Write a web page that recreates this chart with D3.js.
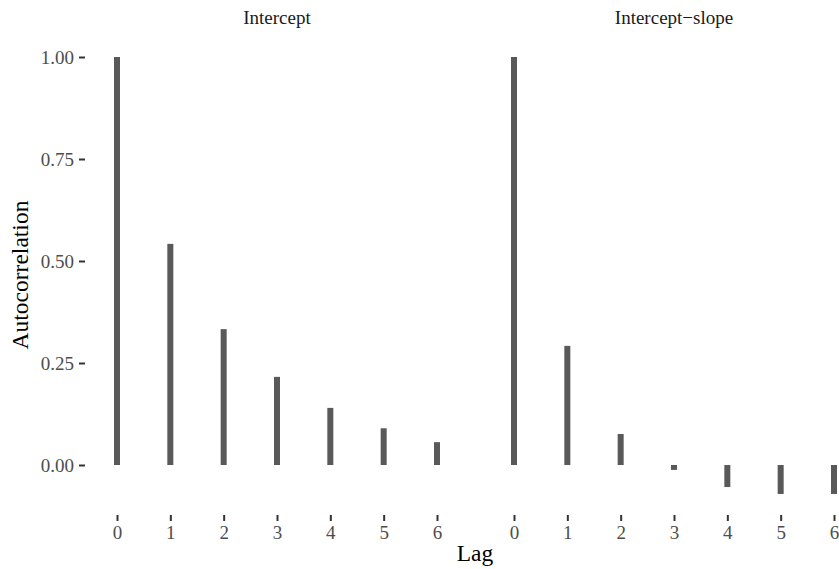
<!DOCTYPE html>
<html><head><meta charset="utf-8">
<script src="https://cdn.jsdelivr.net/npm/d3@7"></script>
<style>body{margin:0;background:#fff}svg{display:block}</style>
</head><body>
<script>
const panels = ["Intercept", "Intercept\u2212slope"];
const lags = [0, 1, 2, 3, 4, 5, 6];
const interceptAcf = [1.0, 0.542, 0.333, 0.216, 0.14, 0.09, 0.056];
const slopeAcf = [1.0, 0.292, 0.076, -0.012, -0.054, -0.071, -0.071];
const yTicks = [0, 0.25, 0.5, 0.75, 1.0];
const series = [interceptAcf, slopeAcf];

const W = 839, H = 569;
const svg = d3.select("body").append("svg").attr("width", W).attr("height", H);
const font = "'Liberation Serif', 'Times New Roman', serif";

const panelLeft = [85, 482], panelW = 384;
const y = d3.scaleLinear().domain([0, 1]).range([465, 57]);

// y axis
const yAxis = svg.append("g").attr("transform", "translate(85,0)")
  .call(d3.axisLeft(y).tickValues(yTicks).tickFormat(d3.format(".2f")).tickSize(6).tickPadding(5));
yAxis.attr("font-family", font).attr("font-size", 19);
yAxis.select(".domain").remove();
yAxis.selectAll("line").attr("stroke", "#333").attr("stroke-width", 2);
yAxis.selectAll("text").attr("fill", "#4d4d4d").attr("dy", "0.34em");

panels.forEach((name, i) => {
  const x = d3.scaleLinear().domain([-0.6, 6.6]).range([panelLeft[i], panelLeft[i] + panelW]);
  const g = svg.append("g");
  g.selectAll("rect").data(lags).join("rect")
    .attr("x", d => x(d) - 3).attr("width", 6)
    .attr("y", (d, j) => y(Math.max(0, series[i][j])))
    .attr("height", (d, j) => Math.abs(y(series[i][j]) - y(0)))
    .attr("fill", "#595959");
  const xa = svg.append("g").attr("transform", "translate(0,515)")
    .call(d3.axisBottom(x).tickValues(lags).tickFormat(d3.format("d")).tickSize(6).tickPadding(5));
  xa.attr("font-family", font).attr("font-size", 19);
  xa.select(".domain").remove();
  xa.selectAll("line").attr("stroke", "#333").attr("stroke-width", 2);
  xa.selectAll("text").attr("fill", "#4d4d4d");
  svg.append("text").attr("x", panelLeft[i] + panelW / 2).attr("y", 24)
    .attr("text-anchor", "middle").attr("font-family", font).attr("font-size", 19)
    .attr("fill", "#1a1a1a").text(name);
});

svg.append("text").attr("x", 475).attr("y", 561).attr("text-anchor", "middle")
  .attr("font-family", font).attr("font-size", 23.5).attr("fill", "#000").text("Lag");
svg.append("text").attr("transform", "translate(28,275) rotate(-90)").attr("text-anchor", "middle")
  .attr("font-family", font).attr("font-size", 23.5).attr("fill", "#000").text("Autocorrelation");
</script>
</body></html>
